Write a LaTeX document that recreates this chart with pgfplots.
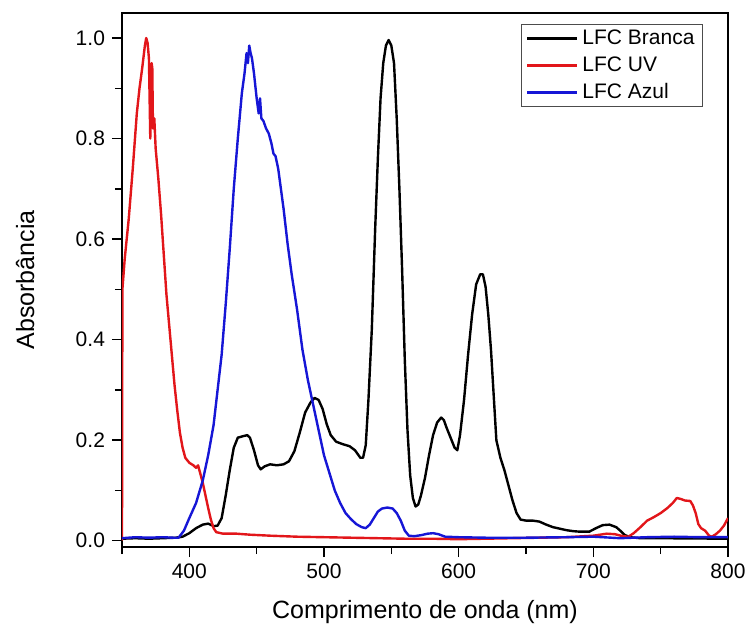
\documentclass[border=0pt]{standalone}
\usepackage{fontspec}
\setmainfont{Liberation Sans}
\usepackage{pgfplots}
\pgfplotsset{compat=1.18}
\definecolor{uvred}{RGB}{226,22,26}
\definecolor{azblue}{RGB}{22,22,214}
\begin{document}
\begin{tikzpicture}
\begin{axis}[
  scale only axis,
  width=303pt, height=267pt,
  xmin=350, xmax=800,
  ymin=-0.0125, ymax=1.0497,
  xtick={400,500,600,700,800},
  minor xtick={350,450,550,650,750},
  ytick={0,0.2,0.4,0.6,0.8,1.0},
  minor ytick={0.1,0.3,0.5,0.7,0.9},
  tick align=outside,
  xtick pos=bottom, ytick pos=left,
  major tick length=5pt, minor tick length=3.5pt,
  every tick/.style={black, line width=0.7pt},
  axis line style={line width=0.8pt},
  /pgf/number format/assume math mode=true,
  yticklabel style={/pgf/number format/.cd, fixed, fixed zerofill, precision=1},
  xticklabel style={/pgf/number format/.cd, fixed, precision=0, 1000 sep={}},
  tick label style={font=\fontsize{10.5}{12}\selectfont},
  xlabel={Comprimento de onda (nm)},
  ylabel={Absorbância},
  label style={font=\fontsize{12.5}{15}\selectfont},
  xlabel style={at={(axis description cs:0.5,-0.1215)}, anchor=center},
  ylabel style={at={(axis description cs:-0.160,0.5)}, anchor=center},
  legend style={at={(0.9587,0.979)}, anchor=north east, draw=black!70, line width=0.5pt,
    font=\fontsize{10.5}{12.5}\selectfont, row sep=0.6pt, inner xsep=2pt, inner ysep=0.5pt},
  legend cell align=left,
  legend image code/.code={\draw[#1] (0pt,0pt) -- (25pt,0pt);},
  legend image post style={line width=1.3pt},
  every axis plot/.append style={line width=1.2pt, line join=round},
]
\addplot[black] coordinates {
(350,0.004) (360,0.005) (370,0.004) (380,0.005) (390,0.006) (395,0.008) (400,0.015)
(405,0.025) (410,0.032) (414,0.034) (418,0.029) (421,0.030) (424,0.045) (427,0.090)
(430,0.140) (433,0.185) (436,0.205) (440,0.208) (443,0.210) (445,0.205) (448,0.180)
(451,0.150) (453,0.142) (456,0.148) (460,0.152) (465,0.150) (470,0.152) (474,0.158)
(478,0.178) (482,0.215) (486,0.255) (490,0.275) (493,0.284) (496,0.280) (499,0.262)
(502,0.232) (505,0.210) (509,0.197) (514,0.192) (519,0.188) (523,0.180) (527,0.165)
(529,0.165) (531,0.190) (533,0.280) (535.5,0.420) (538,0.620) (540,0.760) (542,0.880)
(544,0.950) (546,0.985) (548,0.996) (550,0.985) (552,0.950) (554,0.840) (556,0.700)
(558,0.540) (560,0.360) (562,0.220) (564,0.130) (566,0.085) (568,0.068) (570,0.072)
(572,0.090) (575,0.125) (578,0.170) (581,0.210) (584,0.235) (587,0.245) (589,0.240)
(591,0.225) (594,0.205) (597,0.185) (599,0.180) (601,0.210) (604,0.280) (607,0.370)
(610,0.450) (613,0.510) (616,0.530) (618,0.530) (620,0.505) (622,0.450) (624,0.380)
(626,0.290) (628,0.200) (631,0.165) (634,0.140) (637,0.110) (640,0.080) (643,0.055)
(646,0.042) (650,0.040) (655,0.040) (660,0.038) (665,0.032) (670,0.027) (675,0.024)
(680,0.021) (685,0.019) (690,0.018) (697,0.018) (702,0.025) (707,0.031) (712,0.032)
(717,0.027) (720,0.020) (723,0.012) (727,0.007) (735,0.005) (750,0.005) (800,0.004)
};
\addlegendentry{LFC Branca}
\addplot[uvred] coordinates {
(350,0.000) (350.3,0.500) (352,0.560) (355,0.640) (358,0.740) (361,0.850) (363,0.900)
(365,0.940) (367,0.985) (368,1.000) (369,0.990) (370,0.960) (371,0.800) (371.5,0.880)
(372,0.950) (372.5,0.940) (373,0.820) (374,0.840) (375,0.780) (377,0.720) (379,0.650)
(381,0.570) (383,0.490) (385,0.430) (387,0.370) (389,0.310) (391,0.260) (393,0.215)
(395,0.185) (397,0.165) (400,0.155) (403,0.150) (405,0.145) (406.5,0.150) (408,0.135)
(410,0.115) (412,0.090) (414,0.065) (416,0.042) (418,0.025) (420,0.017) (425,0.014)
(435,0.014) (445,0.012) (460,0.010) (480,0.008) (500,0.007) (520,0.006) (540,0.005)
(560,0.004) (580,0.004) (600,0.003) (620,0.004) (640,0.005) (660,0.006) (680,0.007)
(700,0.010) (710,0.014) (716,0.013) (722,0.009) (726,0.008) (730,0.015) (735,0.027)
(740,0.040) (745,0.047) (750,0.055) (755,0.065) (759,0.075) (762,0.085) (765,0.083)
(768,0.080) (772,0.079) (774,0.070) (776,0.055) (778,0.033) (780,0.025) (783,0.020)
(786,0.010) (788,0.008) (791,0.013) (794,0.020) (797,0.030) (800,0.045)
};
\addlegendentry{LFC UV}
\addplot[azblue] coordinates {
(350,0.005) (360,0.007) (370,0.006) (380,0.007) (388,0.006) (392,0.006) (396,0.020)
(400,0.045) (405,0.075) (410,0.120) (414,0.170) (418,0.230) (421,0.300) (424,0.370)
(427,0.470) (430,0.580) (433,0.700) (436,0.800) (439,0.890) (441,0.930) (442.5,0.970)
(443.5,0.950) (444.5,0.985) (445.5,0.970) (446.5,0.960) (448,0.930) (450,0.880)
(451.5,0.850) (452.5,0.880) (453.5,0.840) (455,0.835) (457,0.820) (459,0.810)
(461,0.790) (462.5,0.770) (464,0.765) (466,0.740) (468,0.700) (470,0.660) (473,0.590)
(476,0.530) (480,0.460) (484,0.380) (488,0.320) (492,0.270) (496,0.220) (500,0.170)
(504,0.135) (508,0.100) (512,0.075) (516,0.055) (520,0.043) (524,0.033) (528,0.027)
(531,0.025) (534,0.032) (537,0.045) (540,0.058) (543,0.064) (547,0.066) (551,0.064)
(554,0.055) (557,0.040) (560,0.020) (563,0.010) (567,0.009) (572,0.011) (577,0.014)
(581,0.015) (585,0.013) (590,0.008) (600,0.007) (620,0.006) (650,0.006) (680,0.007)
(700,0.008) (720,0.005) (740,0.007) (760,0.008) (780,0.007) (800,0.007)
};
\addlegendentry{LFC Azul}
\end{axis}
\pgfresetboundingbox
\path[use as bounding box] (current axis.south west) ++(-61pt,-40.5pt) rectangle ++(373pt,314pt);
\end{tikzpicture}
\end{document}
